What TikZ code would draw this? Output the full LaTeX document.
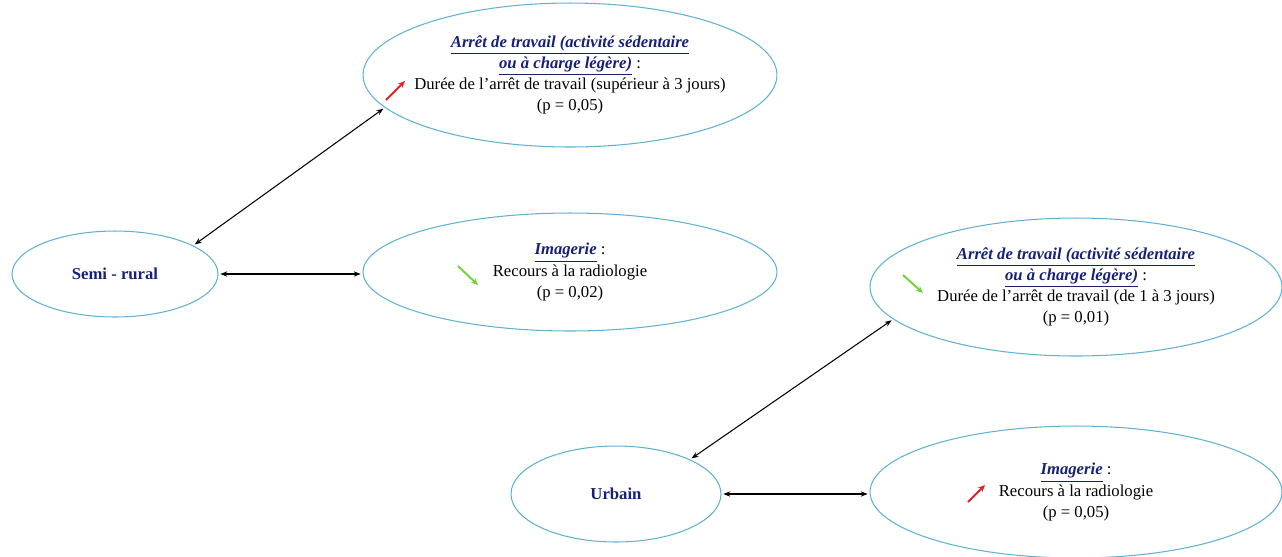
\documentclass[tikz,border=0pt]{standalone}
\usepackage{fontspec}
\setmainfont{Liberation Serif}
\usetikzlibrary{shapes.geometric,calc,arrows.meta}
\definecolor{ovalblue}{RGB}{95,178,212}
\definecolor{titleblue}{RGB}{22,32,120}
\definecolor{upred}{RGB}{228,32,40}
\definecolor{downgreen}{RGB}{112,212,52}
\newcommand{\titre}[1]{\textcolor{titleblue}{\textbf{\textit{\underline{#1}}}}}

\begin{document}
\begin{tikzpicture}[x=0.02cm,y=-0.02cm,
 oval/.style={draw=ovalblue,line width=0.6pt,ellipse,inner xsep=-20pt,inner ysep=0pt,align=center,
   font=\fontsize{9.5}{12}\selectfont},
 lieu/.style={oval,font=\fontsize{9.5}{11}\selectfont\bfseries\color{titleblue}},
 link/.style={{Stealth[length=4pt,width=3pt]}-{Stealth[length=4pt,width=3pt]},line width=0.6pt,shorten >=1pt,shorten <=1pt},
 hausse/.style={upred,line width=1.1pt,-{Stealth[length=4pt,width=3.5pt]}},
 baisse/.style={downgreen,line width=1.1pt,-{Stealth[length=4pt,width=3.5pt]}}]
 \useasboundingbox (0,0) rectangle (1282,556);

 % semi-rural
 \node[lieu,minimum width=4.12cm,minimum height=1.72cm] (semi) at (115,274) {Semi - rural};
 \node[oval,minimum width=8.28cm,minimum height=2.88cm] (arret1) at (570,75)
  {\titre{Arrêt de travail (activité sédentaire}\\\titre{ou à charge légère)} :\\
   Durée de l’arrêt de travail (supérieur à 3 jours)\\(p = 0,05)};
 \node[oval,minimum width=8.28cm,minimum height=2.36cm] (imag1) at (570,272)
  {\titre{Imagerie} :\\Recours à la radiologie\\(p = 0,02)};

 % urbain
 \node[lieu,minimum width=4.2cm,minimum height=1.92cm] (urb) at (616,494) {Urbain};
 \node[oval,minimum width=8.24cm,minimum height=2.76cm] (arret2) at (1076,287)
  {\titre{Arrêt de travail (activité sédentaire}\\\titre{ou à charge légère)} :\\
   Durée de l’arrêt de travail (de 1 à 3 jours)\\(p = 0,01)};
 \node[oval,minimum width=8.24cm,minimum height=2.64cm] (imag2) at (1076,492)
  {\titre{Imagerie} :\\Recours à la radiologie\\(p = 0,05)};

 \draw[link] (semi.20) -- (arret1.190);
 \draw[link] (semi.east) -- (semi.east -| imag1.west);
 \draw[link] (urb.25) -- (arret2.190);
 \draw[link] (urb.east) -- (urb.east -| imag2.west);

 \draw[hausse] ($(arret1)+(-184,25)$) -- ++(19,-19);
 \draw[baisse] ($(imag1)+(-112,-6)$) -- ++(20,19);
 \draw[baisse] ($(arret2)+(-173,-12)$) -- ++(20,18);
 \draw[hausse] ($(imag2)+(-108,10)$) -- ++(17,-17);
\end{tikzpicture}
\end{document}
